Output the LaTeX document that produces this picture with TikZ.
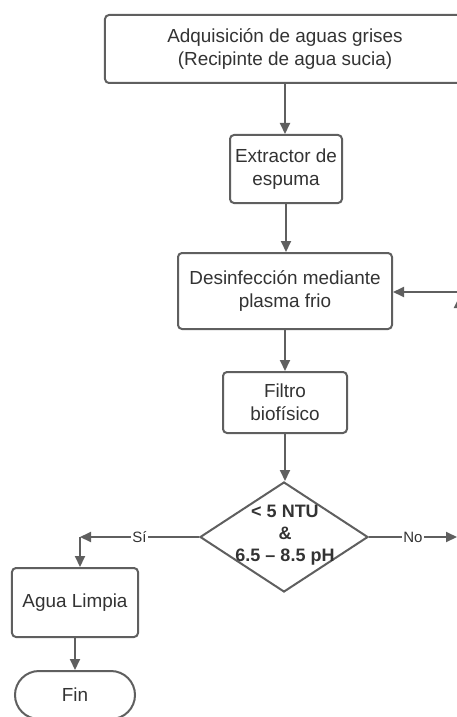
\documentclass[tikz,border=0pt]{standalone}
\usepackage{fontspec}
\setmainfont{Liberation Sans}
\usetikzlibrary{shapes.geometric,arrows.meta}
\definecolor{linecol}{HTML}{5F5F5F}
\definecolor{txtcol}{HTML}{333333}
\tikzset{
  box/.style={draw=linecol, line width=2bp, rounded corners=4bp, fill=white,
    text=txtcol, align=center, inner sep=0pt,
    font=\fontsize{18.9bp}{23bp}\selectfont},
  decision/.style={draw=linecol, line width=2bp, diamond, fill=white, inner sep=0pt},
  term/.style={draw=linecol, line width=2bp, rounded corners=24bp, fill=white,
    text=txtcol, inner sep=0pt, font=\fontsize{18.9bp}{23bp}\selectfont},
  conn/.style={draw=linecol, line width=2bp, -{Triangle[length=11bp,width=10bp]}},
  lbl/.style={fill=white, text=txtcol, inner sep=1bp, font=\fontsize{15bp}{17bp}\selectfont},
}
\begin{document}
\begin{tikzpicture}[x=1bp, y=-1bp]
\useasboundingbox (0,0) rectangle (457,717);
\clip (0,0) rectangle (457,717);
\node[box, minimum width=360bp, minimum height=68bp] (top) at (285,49)
  {Adquisición de aguas grises\\(Recipinte de agua sucia)};
\node[box, minimum width=112bp, minimum height=68bp] (extr) at (286,169)
  {Extractor de\\espuma};
\node[box, minimum width=214bp, minimum height=76bp] (desinf) at (285,291)
  {Desinfección mediante\\plasma frio};
\node[box, minimum width=124bp, minimum height=61bp] (filtro) at (285,402.5)
  {Filtro\\biofísico};
\node[decision, minimum width=168bp, minimum height=110bp] (dec) at (284,537) {};
\node[text=txtcol, align=center, font=\bfseries\fontsize{18bp}{22bp}\selectfont] (dectxt) at (285,535)
  {< 5 NTU\\\&\\6.5 – 8.5 pH};
\node[box, minimum width=126bp, minimum height=69bp] (limpia) at (75,602.5)
  {Agua Limpia};
\node[term, minimum width=120bp, minimum height=48bp] (fin) at (75,695) {Fin};

\coordinate (siC) at (80,537);
\coordinate (noEnd) at (457,537);
\coordinate (loopS) at (480,292);
\coordinate (upS) at (459,320);
\coordinate (upE) at (459,297);

\draw[conn] (top.south) -- (top.south |- extr.north);
\draw[conn] (extr.south) -- (extr.south |- desinf.north);
\draw[conn] (desinf.south) -- (desinf.south |- filtro.north);
\draw[conn] (filtro.south) -- (filtro.south |- dec.north);
\draw[conn] (dec.west) -- node[lbl] {Sí} (siC);
\draw[conn] (siC) -- (siC |- limpia.north);
\draw[conn] (limpia.south) -- (limpia.south |- fin.north);
\draw[conn] (dec.east) -- node[lbl] {No} (noEnd);
\draw[conn] (loopS) -- (loopS -| desinf.east);
\draw[conn] (upS) -- (upE);
\end{tikzpicture}
\end{document}
